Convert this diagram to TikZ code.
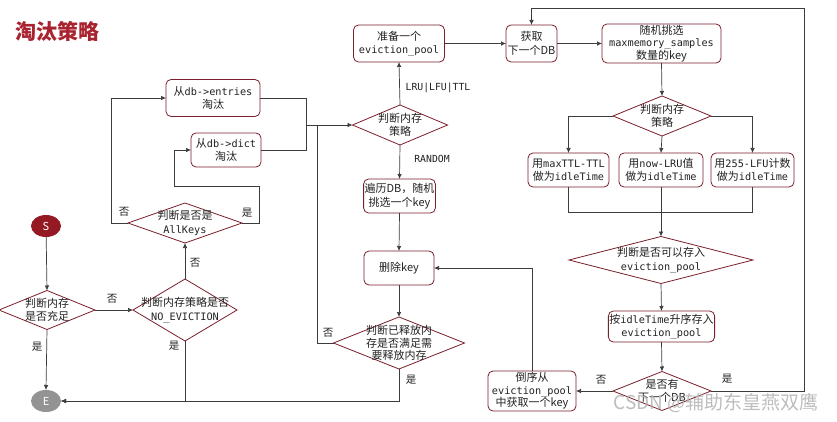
\documentclass[tikz,border=0pt]{standalone}
\usepackage{fontspec}
\setmainfont{Noto Sans CJK SC}
\setmonofont{DejaVu Sans Mono}[Scale=0.93]
\usetikzlibrary{shapes.geometric,arrows.meta}
\definecolor{bd}{HTML}{7A1F2B}
\definecolor{ttl}{HTML}{A8232F}
\definecolor{ln}{HTML}{3C3C3C}
\definecolor{txt}{HTML}{222222}
\newcommand\mn[1]{{\ttfamily #1}}
\begin{document}
\begin{tikzpicture}[x=1pt,y=-1pt,
  every node/.style={font=\fontsize{11}{13.5}\selectfont, text=txt},
  box/.style={draw=bd, line width=0.8pt, rounded corners=5pt, fill=white, align=center, inner sep=1pt, outer sep=0pt},
  three/.style={font=\fontsize{11}{12.5}\selectfont},
  dia/.style={diamond, draw=bd, line width=0.8pt, fill=white, inner sep=0pt, outer sep=0pt},
  tl/.style={align=center, text=txt},
  term/.style={ellipse, minimum width=30pt, minimum height=22pt, inner sep=0pt, outer sep=0pt, text=white},
  ln/.style={draw=ln, line width=0.7pt},
  arr/.style={ln, -{Latex[length=5pt,width=4.5pt]}},
  lab/.style={font=\fontsize{10.5}{12}\selectfont, text=txt}
]
\path[use as bounding box, fill=white] (0,0) rectangle (837,422);

\node[font=\fontsize{21}{24}\selectfont\bfseries, text=ttl] (title) at (57,31) {淘汰策略};

% left part
\node[term, fill=bd!80!red] (S) at (46,226) {S};
\node[term, fill=gray!85] (E) at (46,401) {E};
\node[dia, minimum width=96pt, minimum height=39pt, label={[tl]center:{判断内存\\是否充足}}] (mem) at (47,310) {};
\node[dia, minimum width=104pt, minimum height=62pt, label={[tl]center:{判断内存策略是否\\\mn{NO\_EVICTION}}}] (noev) at (185,310) {};
\node[dia, minimum width=114pt, minimum height=40pt, label={[tl]center:{判断是否是\\\mn{AllKeys}}}] (ak) at (185,223) {};
\node[box, minimum width=94pt, minimum height=37pt] (ent) at (213,98) {从\mn{db->entries}\\淘汰};
\node[box, minimum width=70pt, minimum height=34pt] (dict) at (226,150) {从\mn{db->dict}\\淘汰};

% middle part
\node[dia, minimum width=95pt, minimum height=40pt, label={[tl]center:{判断内存\\策略}}] (st1) at (400,125) {};
\node[box, minimum width=91pt, minimum height=37pt] (pool) at (399,43.5) {准备一个\\\mn{eviction\_pool}};
\node[box, minimum width=71pt, minimum height=34pt] (trav) at (399.5,196) {遍历DB，随机\\挑选一个key};
\node[box, minimum width=70pt, minimum height=34pt] (del) at (399,268) {删除key};
\node[dia, minimum width=131pt, minimum height=52pt, label={[tl,three]center:{判断已释放内\\存是否满足需\\要释放内存}}] (rel) at (399,343) {};

% right part
\node[box, minimum width=51pt, minimum height=37pt] (get) at (531.5,43.5) {获取\\下一个DB};
\node[box, three, minimum width=119pt, minimum height=39pt] (samp) at (661.5,43.5) {随机挑选\\\mn{maxmemory\_samples}\\数量的key};
\node[dia, minimum width=98pt, minimum height=40pt, label={[tl]center:{判断内存\\策略}}] (st2) at (662,116) {};
\node[box, minimum width=81pt, minimum height=34pt] (ba) at (568.5,170) {用\mn{maxTTL-TTL}\\做为\mn{idleTime}};
\node[box, minimum width=84pt, minimum height=34pt] (bb) at (661,170) {用\mn{now-LRU}值\\做为\mn{idleTime}};
\node[box, minimum width=83pt, minimum height=34pt] (bc) at (752.5,170) {用\mn{255-LFU}计数\\做为\mn{idleTime}};
\node[dia, minimum width=184pt, minimum height=47pt, label={[tl]center:{判断是否可以存入\\\mn{eviction\_pool}}}] (save) at (661,260) {};
\node[box, minimum width=105pt, minimum height=31pt] (asc) at (661.5,326.5) {按\mn{idleTime}升序存入\\\mn{eviction\_pool}};
\node[dia, minimum width=98pt, minimum height=39pt, label={[tl]center:{是否有\\下一个DB}}] (nxt) at (662,391) {};
\node[box, three, minimum width=88pt, minimum height=40pt] (rev) at (532,391) {倒序从\\\mn{eviction\_pool}\\中获取一个key};

% junction coordinates
\coordinate (j1) at (306,125);
\coordinate (j2) at (317,125);
\coordinate (m) at (661,212);
\coordinate (tr) at (804,8);

% connectors left
\draw[arr] (S) -- (mem.north);
\draw[arr] (mem.east) -- (noev.west);
\draw[arr] (mem.south) -- (E.north);
\draw[arr] (noev.south) |- (E.east);
\draw[arr] (rel.south) |- (E.east);
\draw[arr] (noev.north) -- (ak.south);
\draw[arr] (ak.west) -- ++(-17,0) |- (ent.west);
\draw[arr] (ak.east) -- ++(17,0) -- ++(0,-37) -- ++(-85,0) |- (dict.west);
\draw[ln] (ent.east) -| (j1);
\draw[ln] (dict.east) -| (j1);
\draw[arr] (j1) -- (st1.west);
\draw[ln] (rel.west) -| (j2);

% connectors middle
\draw[arr] (st1.north) -- (pool.south);
\draw[arr] (st1.south) -- (trav.north);
\draw[arr] (trav.south) -- (del.north);
\draw[arr] (del.south) -- (rel.north);
\draw[arr] (rev.north) |- (del.east);

% connectors right
\draw[arr] (pool.east) -- (get.west);
\draw[arr] (get.east) -- (samp.west);
\draw[arr] (samp.south) -- (st2.north);
\draw[arr] (st2.west) -| (ba.north);
\draw[arr] (st2.east) -| (bc.north);
\draw[arr] (st2.south) -- (bb.north);
\draw[ln] (ba.south) |- (m);
\draw[ln] (bc.south) |- (m);
\draw[ln] (bb.south) -- (m);
\draw[arr] (m) -- (save.north);
\draw[arr] (save.south) -- (asc.north);
\draw[arr] (asc.south) -- (nxt.north);
\draw[arr] (nxt.west) -- (rev.east);
\draw[arr] (nxt.east) -| (tr) -| (get.north);

% labels
\node[lab] (l1) at (112,299) {否};
\node[lab] (l2) at (37,347) {是};
\node[lab] (l3) at (195,263) {否};
\node[lab] (l4) at (174,346) {是};
\node[lab] (l5) at (124,212) {否};
\node[lab] (l6) at (247,213) {是};
\node[lab, font=\ttfamily\fontsize{10.5}{12}\selectfont] (l7) at (438,88) {LRU|LFU|TTL};
\node[lab, font=\ttfamily\fontsize{10.5}{12}\selectfont] (l8) at (432,159) {RANDOM};
\node[lab] (l9) at (328,333) {否};
\node[lab] (l10) at (411,380) {是};
\node[lab] (l11) at (601,380) {否};
\node[lab] (l12) at (727,379) {是};

% watermark
\node[font=\fontsize{19}{20}\selectfont, text=gray!60, opacity=0.85] (wm) at (716,403) {CSDN @辅助东皇燕双鹰};
\end{tikzpicture}
\end{document}
